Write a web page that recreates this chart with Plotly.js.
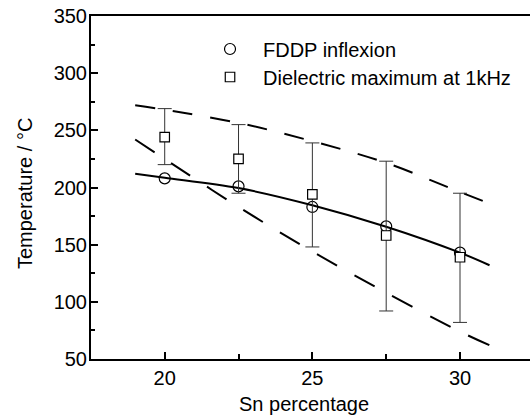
<!DOCTYPE html>
<html>
<head>
<meta charset="utf-8">
<script src="https://cdn.plot.ly/plotly-3.0.1.min.js"></script>
<style>html,body{margin:0;padding:0;background:#fff;}#chart{width:530px;height:418px;}</style>
</head>
<body>
<div id="chart"></div>
<script>
// Data
var sn = [20, 22.5, 25, 27.5, 30];
var fddpInflexion = [208, 201, 183, 166, 143];
var dielectricMax = [244, 225, 194, 158, 139];
var dielectricHigh = [269, 255, 239, 223, 195];
var dielectricLow = [220, 195, 148, 92, 82];

var curveX = [19, 20, 22.5, 25, 27.5, 30, 31];
var fitCurve = [212, 208.5, 199.5, 184.5, 165.7, 143, 132];
var upperBound = [272, 268, 256.5, 240.5, 221.5, 196, 186];
var lowerBound = [242, 225, 183, 144, 108, 74, 62];

var xTickVals = [20, 25, 30];
var yTickVals = [50, 100, 150, 200, 250, 300, 350];

var errPlus = dielectricHigh.map(function (v, i) { return v - dielectricMax[i]; });
var errMinus = dielectricMax.map(function (v, i) { return v - dielectricLow[i]; });

var FONT = 'Liberation Sans, Arial, sans-serif';

var traces = [
  {x: curveX, y: upperBound, mode: 'lines', line: {color: '#000', width: 2, dash: '20px,18px', shape: 'spline'}, showlegend: false, hoverinfo: 'skip'},
  {x: curveX, y: lowerBound, mode: 'lines', line: {color: '#000', width: 2, dash: '23px,20px', shape: 'spline'}, showlegend: false, hoverinfo: 'skip'},
  {x: curveX, y: fitCurve, mode: 'lines', line: {color: '#000', width: 2, shape: 'spline'}, showlegend: false, hoverinfo: 'skip'},
  {x: sn, y: fddpInflexion, mode: 'markers', name: 'FDDP inflexion', legend: 'legend',
   marker: {symbol: 'circle-open', size: 11, color: '#000', line: {color: '#000', width: 1.2}}},
  {x: sn, y: dielectricMax, mode: 'markers', name: 'Dielectric maximum at 1kHz', legend: 'legend2',
   marker: {symbol: 'square', size: 9.5, color: '#fff', line: {color: '#000', width: 1.2}},
   error_y: {type: 'data', symmetric: false, array: errPlus, arrayminus: errMinus, color: '#333', thickness: 1, width: 7}}
];

var legendCommon = {xanchor: 'left', yanchor: 'top', bgcolor: 'rgba(0,0,0,0)', borderwidth: 0,
                    itemwidth: 56, font: {family: FONT, size: 20, color: '#000'}};

var layout = {
  width: 530, height: 418,
  margin: {l: 91, r: 0, t: 16, b: 59},
  paper_bgcolor: '#fff', plot_bgcolor: '#fff',
  font: {family: FONT, size: 20, color: '#000'},
  showlegend: true,
  legend: Object.assign({x: 0.2415, y: 0.9606}, legendCommon),
  legend2: Object.assign({x: 0.2415, y: 0.8790}, legendCommon),
  xaxis: {range: [17.504, 32.37], tickvals: xTickVals, ticktext: xTickVals.map(String),
          ticks: 'inside', ticklen: 7, tickwidth: 2, tickcolor: '#000',
          minor: {dtick: 2.5, tick0: 0, ticks: 'inside', ticklen: 5, tickwidth: 2, tickcolor: '#000'},
          showline: true, linewidth: 2, linecolor: '#000', mirror: true, showgrid: false, zeroline: false,
          tickfont: {family: FONT, size: 20, color: '#000'}},
  yaxis: {range: [50, 350], tickvals: yTickVals, ticktext: yTickVals.map(String),
          ticks: 'inside', ticklen: 7, tickwidth: 2, tickcolor: '#000',
          minor: {dtick: 25, tick0: 0, ticks: 'inside', ticklen: 4, tickwidth: 2, tickcolor: '#000'},
          showline: true, linewidth: 2, linecolor: '#000', showgrid: false, zeroline: false,
          ticklabelstandoff: -2,
          tickfont: {family: FONT, size: 20, color: '#000'}},
  annotations: [
    {text: 'Sn percentage', xref: 'paper', yref: 'paper', x: 0.4852, y: -0.131, xanchor: 'center', yanchor: 'middle', showarrow: false,
     font: {family: FONT, size: 20, color: '#000'}},
    {text: 'Temperature / °C', xref: 'paper', yref: 'paper', x: -0.1503, y: 0.481, xanchor: 'center', yanchor: 'middle', textangle: -90, showarrow: false,
     font: {family: FONT, size: 20, color: '#000'}}
  ]
};

Plotly.newPlot('chart', traces, layout, {displayModeBar: false, staticPlot: true});
</script>
</body>
</html>
